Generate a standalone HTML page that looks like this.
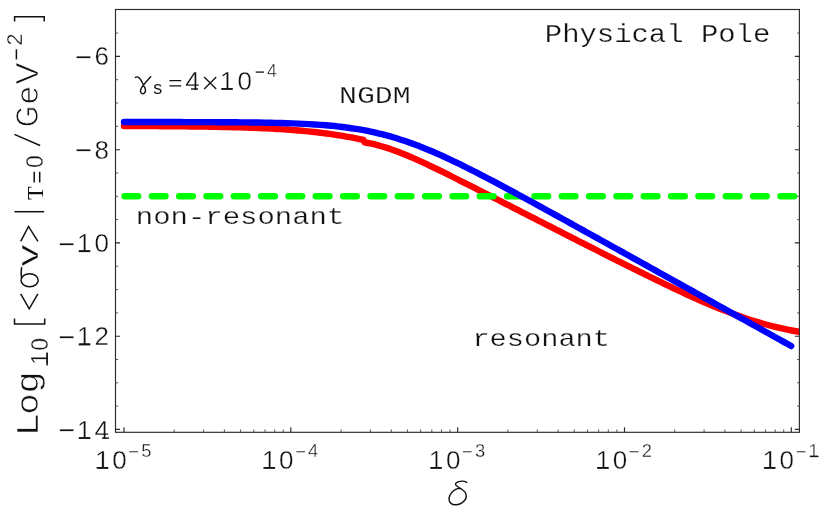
<!DOCTYPE html><html><head><meta charset="utf-8"><style>html,body{margin:0;padding:0;background:#fff;overflow:hidden}svg{display:block}.m{font-family:"Liberation Mono",monospace}.s{font-family:"Liberation Sans",sans-serif}.r{font-family:"Liberation Serif",serif}text{fill:#111}.s{stroke:#fff;stroke-width:.35px}</style></head><body>
<svg width="830" height="513" viewBox="0 0 830 513" style="will-change:transform">
<rect width="830" height="513" fill="#fff"/>
<clipPath id="c"><rect x="115.5" y="9.5" width="683.9" height="422.8"/></clipPath>
<g fill="none" stroke-linecap="round" stroke-linejoin="round" clip-path="url(#c)">
<path d="M124.00 126.01 C125.02 126.02 128.09 126.03 130.14 126.03 C132.18 126.04 134.23 126.05 136.28 126.06 C138.32 126.06 140.37 126.07 142.42 126.08 C144.46 126.09 146.51 126.10 148.55 126.11 C150.60 126.12 152.65 126.13 154.69 126.14 C156.74 126.15 158.78 126.16 160.83 126.18 C162.88 126.19 164.92 126.20 166.97 126.22 C169.02 126.23 171.06 126.25 173.11 126.27 C175.15 126.28 177.20 126.30 179.25 126.32 C181.29 126.34 183.34 126.36 185.38 126.38 C187.43 126.40 189.48 126.42 191.52 126.44 C193.57 126.47 195.62 126.49 197.66 126.52 C199.71 126.55 201.75 126.57 203.80 126.60 C205.85 126.64 207.89 126.67 209.94 126.70 C211.98 126.73 214.03 126.77 216.08 126.81 C218.12 126.85 220.17 126.89 222.22 126.93 C224.26 126.97 226.31 127.02 228.35 127.07 C230.40 127.12 232.45 127.17 234.49 127.22 C236.54 127.28 238.58 127.33 240.63 127.39 C242.68 127.45 244.72 127.52 246.77 127.59 C248.82 127.66 250.86 127.73 252.91 127.81 C254.95 127.88 257.00 127.96 259.05 128.05 C261.09 128.14 263.14 128.23 265.18 128.32 C267.23 128.42 269.28 128.52 271.32 128.63 C273.37 128.74 275.42 128.85 277.46 128.97 C279.51 129.09 281.55 129.22 283.60 129.35 C285.65 129.49 287.69 129.63 289.74 129.78 C291.78 129.93 293.83 130.09 295.88 130.25 C297.92 130.42 299.97 130.59 302.02 130.78 C304.06 130.96 306.11 131.16 308.15 131.36 C310.20 131.57 312.25 131.78 314.29 132.01 C316.34 132.23 318.38 132.47 320.43 132.72 C322.48 132.97 324.52 133.23 326.57 133.50 C328.62 133.78 330.66 134.06 332.71 134.36 C334.75 134.66 336.80 134.97 338.85 135.30 C340.89 135.63 342.94 135.97 344.98 136.33 C347.03 136.69 349.08 137.06 351.12 137.45 C353.17 137.84 355.22 138.24 357.26 138.66 C359.31 139.08 362.38 139.75 363.40 139.97M364.60 142.35 C365.52 142.53 368.30 143.05 370.15 143.45 C372.00 143.84 373.85 144.27 375.70 144.73 C377.55 145.19 379.40 145.69 381.25 146.21 C383.10 146.73 384.95 147.29 386.80 147.88 C388.65 148.46 390.50 149.08 392.35 149.73 C394.20 150.37 396.05 151.05 397.90 151.75 C399.75 152.44 401.60 153.17 403.45 153.91 C405.30 154.66 407.15 155.43 408.99 156.21 C410.84 157.00 412.69 157.80 414.54 158.62 C416.39 159.44 418.24 160.27 420.09 161.12 C421.94 161.96 423.79 162.82 425.64 163.69 C427.49 164.56 429.34 165.44 431.19 166.32 C433.04 167.21 434.89 168.10 436.74 169.00 C438.59 169.90 440.44 170.81 442.29 171.72 C444.14 172.63 445.99 173.55 447.84 174.47 C449.69 175.39 451.54 176.31 453.39 177.24 C455.24 178.16 457.09 179.09 458.94 180.02 C460.79 180.96 462.64 181.89 464.49 182.82 C466.34 183.76 468.19 184.70 470.04 185.64 C471.89 186.57 473.74 187.51 475.59 188.45 C477.44 189.39 479.29 190.34 481.14 191.28 C482.99 192.22 484.84 193.16 486.69 194.11 C488.54 195.05 490.39 195.99 492.24 196.94 C494.09 197.88 495.94 198.83 497.78 199.77 C499.63 200.72 501.48 201.66 503.33 202.61 C505.18 203.55 507.03 204.50 508.88 205.44 C510.73 206.39 512.58 207.34 514.43 208.28 C516.28 209.23 518.13 210.17 519.98 211.12 C521.83 212.07 523.68 213.01 525.53 213.96 C527.38 214.90 529.23 215.85 531.08 216.80 C532.93 217.74 534.78 218.69 536.63 219.63 C538.48 220.58 540.33 221.52 542.18 222.47 C544.03 223.41 545.88 224.36 547.73 225.30 C549.58 226.25 551.43 227.19 553.28 228.14 C555.13 229.08 556.98 230.03 558.83 230.97 C560.68 231.92 562.53 232.86 564.38 233.80 C566.23 234.75 568.08 235.69 569.93 236.63 C571.78 237.57 573.63 238.52 575.48 239.46 C577.33 240.40 579.18 241.34 581.03 242.28 C582.88 243.22 584.72 244.16 586.57 245.10 C588.42 246.04 590.27 246.98 592.12 247.92 C593.97 248.86 595.82 249.80 597.67 250.73 C599.52 251.67 601.37 252.61 603.22 253.54 C605.07 254.48 606.92 255.41 608.77 256.34 C610.62 257.28 612.47 258.21 614.32 259.14 C616.17 260.07 618.02 261.00 619.87 261.93 C621.72 262.86 623.57 263.78 625.42 264.71 C627.27 265.63 629.12 266.56 630.97 267.48 C632.82 268.40 634.67 269.32 636.52 270.24 C638.37 271.16 640.22 272.07 642.07 272.99 C643.92 273.90 645.77 274.81 647.62 275.72 C649.47 276.63 651.32 277.54 653.17 278.44 C655.02 279.34 656.87 280.24 658.72 281.14 C660.57 282.03 662.42 282.93 664.27 283.82 C666.12 284.71 667.97 285.59 669.82 286.47 C671.66 287.35 673.51 288.23 675.36 289.10 C677.21 289.97 679.06 290.84 680.91 291.70 C682.76 292.56 684.61 293.41 686.46 294.26 C688.31 295.11 690.16 295.95 692.01 296.79 C693.86 297.63 695.71 298.46 697.56 299.28 C699.41 300.10 701.26 300.91 703.11 301.71 C704.96 302.52 706.81 303.32 708.66 304.10 C710.51 304.89 712.36 305.67 714.21 306.43 C716.06 307.20 717.91 307.96 719.76 308.70 C721.61 309.45 723.46 310.18 725.31 310.90 C727.16 311.62 729.01 312.34 730.86 313.03 C732.71 313.73 734.56 314.41 736.41 315.08 C738.26 315.75 740.11 316.41 741.96 317.05 C743.81 317.69 745.66 318.32 747.51 318.93 C749.36 319.54 751.21 320.14 753.06 320.72 C754.91 321.30 756.76 321.87 758.61 322.42 C760.45 322.96 762.30 323.50 764.15 324.01 C766.00 324.53 767.85 325.03 769.70 325.51 C771.55 325.99 773.40 326.46 775.25 326.91 C777.10 327.36 778.95 327.79 780.80 328.21 C782.65 328.62 784.50 329.02 786.35 329.41 C788.20 329.79 790.05 330.16 791.90 330.51 C793.75 330.86 795.60 331.20 797.45 331.52 C799.30 331.84 802.08 332.29 803.00 332.44" stroke="#ff0000" stroke-width="6.4"/>
<path d="M124.6 196.3H796" stroke="#00ff00" stroke-width="6.6" stroke-dasharray="13.5 13.83"/>
<path d="M124.00 122.02 C124.93 122.02 127.74 122.02 129.61 122.02 C131.48 122.03 133.34 122.03 135.21 122.03 C137.08 122.03 138.95 122.03 140.82 122.03 C142.69 122.03 144.56 122.03 146.43 122.03 C148.30 122.04 150.16 122.04 152.03 122.04 C153.90 122.04 155.77 122.04 157.64 122.04 C159.51 122.05 161.38 122.05 163.25 122.05 C165.12 122.05 166.98 122.05 168.85 122.06 C170.72 122.06 172.59 122.06 174.46 122.06 C176.33 122.07 178.20 122.07 180.07 122.07 C181.94 122.08 183.81 122.08 185.67 122.08 C187.54 122.09 189.41 122.09 191.28 122.10 C193.15 122.10 195.02 122.11 196.89 122.11 C198.76 122.12 200.63 122.12 202.49 122.13 C204.36 122.13 206.23 122.14 208.10 122.15 C209.97 122.15 211.84 122.16 213.71 122.17 C215.58 122.18 217.45 122.19 219.31 122.20 C221.18 122.21 223.05 122.22 224.92 122.23 C226.79 122.24 228.66 122.25 230.53 122.27 C232.40 122.28 234.27 122.29 236.13 122.31 C238.00 122.32 239.87 122.34 241.74 122.36 C243.61 122.38 245.48 122.40 247.35 122.42 C249.22 122.44 251.09 122.46 252.95 122.48 C254.82 122.51 256.69 122.53 258.56 122.56 C260.43 122.59 262.30 122.62 264.17 122.65 C266.04 122.68 267.91 122.72 269.77 122.76 C271.64 122.80 273.51 122.84 275.38 122.88 C277.25 122.92 279.12 122.97 280.99 123.02 C282.86 123.07 284.73 123.13 286.59 123.19 C288.46 123.25 290.33 123.31 292.20 123.38 C294.07 123.44 295.94 123.52 297.81 123.60 C299.68 123.67 301.55 123.76 303.42 123.85 C305.28 123.94 307.15 124.04 309.02 124.14 C310.89 124.24 312.76 124.35 314.63 124.47 C316.50 124.59 318.37 124.72 320.24 124.86 C322.10 125.00 323.97 125.14 325.84 125.30 C327.71 125.45 329.58 125.62 331.45 125.80 C333.32 125.98 335.19 126.16 337.06 126.37 C338.92 126.57 340.79 126.78 342.66 127.01 C344.53 127.24 346.40 127.48 348.27 127.74 C350.14 127.99 352.01 128.26 353.88 128.55 C355.74 128.84 357.61 129.14 359.48 129.46 C361.35 129.78 363.22 130.12 365.09 130.48 C366.96 130.83 368.83 131.21 370.70 131.60 C372.56 131.99 374.43 132.41 376.30 132.84 C378.17 133.27 380.04 133.72 381.91 134.19 C383.78 134.66 385.65 135.15 387.52 135.66 C389.38 136.17 391.25 136.70 393.12 137.25 C394.99 137.80 396.86 138.38 398.73 138.97 C400.60 139.56 402.47 140.17 404.34 140.80 C406.21 141.43 408.07 142.07 409.94 142.74 C411.81 143.41 413.68 144.10 415.55 144.80 C417.42 145.50 419.29 146.22 421.16 146.96 C423.03 147.70 424.89 148.45 426.76 149.22 C428.63 149.99 430.50 150.78 432.37 151.57 C434.24 152.37 436.11 153.19 437.98 154.01 C439.85 154.84 441.71 155.68 443.58 156.53 C445.45 157.38 447.32 158.25 449.19 159.12 C451.06 160.00 452.93 160.88 454.80 161.78 C456.67 162.67 458.53 163.58 460.40 164.49 C462.27 165.40 464.14 166.33 466.01 167.25 C467.88 168.18 469.75 169.12 471.62 170.07 C473.49 171.01 475.35 171.96 477.22 172.92 C479.09 173.87 480.96 174.84 482.83 175.80 C484.70 176.77 486.57 177.74 488.44 178.72 C490.31 179.70 492.17 180.68 494.04 181.67 C495.91 182.65 497.78 183.64 499.65 184.64 C501.52 185.63 503.39 186.63 505.26 187.63 C507.13 188.63 508.99 189.63 510.86 190.64 C512.73 191.64 514.60 192.65 516.47 193.66 C518.34 194.67 520.21 195.68 522.08 196.70 C523.95 197.71 525.82 198.73 527.68 199.75 C529.55 200.77 531.42 201.79 533.29 202.81 C535.16 203.83 537.03 204.85 538.90 205.88 C540.77 206.90 542.64 207.93 544.50 208.95 C546.37 209.98 548.24 211.01 550.11 212.04 C551.98 213.06 553.85 214.09 555.72 215.12 C557.59 216.15 559.46 217.19 561.32 218.22 C563.19 219.25 565.06 220.28 566.93 221.31 C568.80 222.35 570.67 223.38 572.54 224.42 C574.41 225.45 576.28 226.48 578.14 227.52 C580.01 228.55 581.88 229.59 583.75 230.63 C585.62 231.66 587.49 232.70 589.36 233.73 C591.23 234.77 593.10 235.81 594.96 236.84 C596.83 237.88 598.70 238.92 600.57 239.96 C602.44 240.99 604.31 242.03 606.18 243.07 C608.05 244.11 609.92 245.15 611.78 246.18 C613.65 247.22 615.52 248.26 617.39 249.30 C619.26 250.34 621.13 251.38 623.00 252.42 C624.87 253.46 626.74 254.49 628.61 255.53 C630.47 256.57 632.34 257.61 634.21 258.65 C636.08 259.69 637.95 260.73 639.82 261.77 C641.69 262.81 643.56 263.85 645.43 264.89 C647.29 265.93 649.16 266.97 651.03 268.01 C652.90 269.05 654.77 270.09 656.64 271.13 C658.51 272.17 660.38 273.21 662.25 274.25 C664.11 275.29 665.98 276.33 667.85 277.37 C669.72 278.41 671.59 279.45 673.46 280.49 C675.33 281.53 677.20 282.57 679.07 283.61 C680.93 284.65 682.80 285.69 684.67 286.73 C686.54 287.77 688.41 288.81 690.28 289.85 C692.15 290.89 694.02 291.93 695.89 292.97 C697.75 294.02 699.62 295.06 701.49 296.10 C703.36 297.14 705.23 298.18 707.10 299.22 C708.97 300.26 710.84 301.30 712.71 302.34 C714.57 303.38 716.44 304.42 718.31 305.46 C720.18 306.50 722.05 307.54 723.92 308.58 C725.79 309.62 727.66 310.66 729.53 311.70 C731.39 312.74 733.26 313.79 735.13 314.83 C737.00 315.87 738.87 316.91 740.74 317.95 C742.61 318.99 744.48 320.03 746.35 321.07 C748.22 322.11 750.08 323.15 751.95 324.19 C753.82 325.23 755.69 326.27 757.56 327.31 C759.43 328.35 761.30 329.39 763.17 330.44 C765.04 331.48 766.90 332.52 768.77 333.56 C770.64 334.60 772.51 335.64 774.38 336.68 C776.25 337.72 778.12 338.76 779.99 339.80 C781.86 340.84 783.72 341.88 785.59 342.92 C787.46 343.96 790.27 345.52 791.20 346.04" stroke="#0000ff" stroke-width="6.4"/>
</g>
<g stroke="#2a2a2a" stroke-width="1.15" fill="none">
<rect x="115.5" y="9.5" width="683.9" height="422.8"/>
<path d="M115.5 429.4h4.6M799.4 429.4h-4.6M115.5 336.2h4.6M799.4 336.2h-4.6M115.5 242.9h4.6M799.4 242.9h-4.6M115.5 149.7h4.6M799.4 149.7h-4.6M115.5 56.4h4.6M799.4 56.4h-4.6M124.0 432.3v-5M290.8 432.3v-5M457.7 432.3v-5M624.5 432.3v-5M791.3 432.3v-5M791.3 432.3v-5"/>
<path d="M115.5 406.1h2.7M799.4 406.1h-2.3M115.5 382.8h2.7M799.4 382.8h-2.3M115.5 359.5h2.7M799.4 359.5h-2.3M115.5 312.9h2.7M799.4 312.9h-2.3M115.5 289.6h2.7M799.4 289.6h-2.3M115.5 266.2h2.7M799.4 266.2h-2.3M115.5 219.6h2.7M799.4 219.6h-2.3M115.5 196.3h2.7M799.4 196.3h-2.3M115.5 173.0h2.7M799.4 173.0h-2.3M115.5 126.3h2.7M799.4 126.3h-2.3M115.5 103.0h2.7M799.4 103.0h-2.3M115.5 79.7h2.7M799.4 79.7h-2.3M115.5 33.1h2.7M799.4 33.1h-2.3M174.2 432.3v-2.9M203.6 432.3v-2.9M224.4 432.3v-2.9M240.6 432.3v-2.9M253.8 432.3v-2.9M265.0 432.3v-2.9M274.7 432.3v-2.9M283.2 432.3v-2.9M341.1 432.3v-2.9M370.4 432.3v-2.9M391.3 432.3v-2.9M407.4 432.3v-2.9M420.6 432.3v-2.9M431.8 432.3v-2.9M441.5 432.3v-2.9M450.0 432.3v-2.9M507.9 432.3v-2.9M537.3 432.3v-2.9M558.1 432.3v-2.9M574.3 432.3v-2.9M587.5 432.3v-2.9M598.6 432.3v-2.9M608.3 432.3v-2.9M616.9 432.3v-2.9M674.7 432.3v-2.9M704.1 432.3v-2.9M724.9 432.3v-2.9M741.1 432.3v-2.9M754.3 432.3v-2.9M765.5 432.3v-2.9M775.2 432.3v-2.9M783.7 432.3v-2.9" stroke="#555" stroke-width="1"/>
</g>
<text class="s" x="101.8" y="65.3" font-size="26" text-anchor="middle">6</text>
<text class="s" x="83.6" y="66.8" font-size="29" text-anchor="middle">−</text>
<text class="s" x="101.8" y="158.7" font-size="26" text-anchor="middle">8</text>
<text class="s" x="83.6" y="160.2" font-size="29" text-anchor="middle">−</text>
<text class="s" x="101.8" y="252.1" font-size="26" text-anchor="middle">0</text>
<text class="s" x="84.3" y="252.1" font-size="26" text-anchor="middle">1</text>
<path d="M78.7 251.3h11.6" stroke="#111" stroke-width="1.6"/>
<text class="s" x="67.0" y="253.6" font-size="29" text-anchor="middle">−</text>
<text class="s" x="101.8" y="345.4" font-size="26" text-anchor="middle">2</text>
<text class="s" x="84.3" y="345.4" font-size="26" text-anchor="middle">1</text>
<path d="M78.7 344.6h11.6" stroke="#111" stroke-width="1.6"/>
<text class="s" x="67.0" y="346.9" font-size="29" text-anchor="middle">−</text>
<text class="s" x="101.8" y="438.8" font-size="26" text-anchor="middle">4</text>
<path d="M102.0 438.1h7" stroke="#111" stroke-width="1.4"/>
<text class="s" x="84.3" y="438.8" font-size="26" text-anchor="middle">1</text>
<path d="M78.7 438.0h11.6" stroke="#111" stroke-width="1.6"/>
<text class="s" x="67.0" y="440.3" font-size="29" text-anchor="middle">−</text>
<text class="s" x="102.4" y="468.6" font-size="26" text-anchor="middle">1</text>
<path d="M96.6 467.8h11.4" stroke="#111" stroke-width="1.6"/>
<text class="s" x="119.5" y="468.6" font-size="26" text-anchor="middle">0</text>
<text class="s" x="133.7" y="457.7" font-size="18.4" text-anchor="middle">−</text>
<text class="s" x="146.4" y="457.0" font-size="18.4" text-anchor="middle">5</text>
<text class="s" x="269.2" y="468.6" font-size="26" text-anchor="middle">1</text>
<path d="M263.4 467.8h11.4" stroke="#111" stroke-width="1.6"/>
<text class="s" x="286.3" y="468.6" font-size="26" text-anchor="middle">0</text>
<text class="s" x="300.5" y="457.7" font-size="18.4" text-anchor="middle">−</text>
<text class="s" x="313.2" y="457.0" font-size="18.4" text-anchor="middle">4</text>
<text class="s" x="436.1" y="468.6" font-size="26" text-anchor="middle">1</text>
<path d="M430.3 467.8h11.4" stroke="#111" stroke-width="1.6"/>
<text class="s" x="453.2" y="468.6" font-size="26" text-anchor="middle">0</text>
<text class="s" x="467.4" y="457.7" font-size="18.4" text-anchor="middle">−</text>
<text class="s" x="480.1" y="457.0" font-size="18.4" text-anchor="middle">3</text>
<text class="s" x="602.9" y="468.6" font-size="26" text-anchor="middle">1</text>
<path d="M597.1 467.8h11.4" stroke="#111" stroke-width="1.6"/>
<text class="s" x="620.0" y="468.6" font-size="26" text-anchor="middle">0</text>
<text class="s" x="634.2" y="457.7" font-size="18.4" text-anchor="middle">−</text>
<text class="s" x="646.9" y="457.0" font-size="18.4" text-anchor="middle">2</text>
<text class="s" x="769.7" y="468.6" font-size="26" text-anchor="middle">1</text>
<path d="M763.9 467.8h11.4" stroke="#111" stroke-width="1.6"/>
<text class="s" x="786.8" y="468.6" font-size="26" text-anchor="middle">0</text>
<text class="s" x="801.0" y="457.7" font-size="18.4" text-anchor="middle">−</text>
<text class="s" x="813.7" y="457.0" font-size="18.4" text-anchor="middle">1</text>
<path d="M809.9 456.5h8.6" stroke="#111" stroke-width="1.3"/>
<path d="M466.7 482.4C464.5 481.0 461.0 480.8 458.0 481.8C455.0 482.9 454.9 484.6 456.8 486.0C459.5 488.0 464.0 490.0 465.6 493.0C467.2 497.0 465.5 500.5 462.0 502.8C458.5 505.0 453.5 505.5 451.0 503.4C448.5 501.0 448.6 497.0 451.0 493.4C453.5 490.0 457.5 488.2 461.0 488.4" fill="none" stroke="#111" stroke-width="1.4" stroke-linecap="round"/>
<text class="m" x="544.8" y="41.6" font-size="25" textLength="225.5" lengthAdjust="spacingAndGlyphs" stroke="#fff" stroke-width="0.25">Physical Pole</text>
<text class="m" x="339.0" y="102.9" font-size="24.5" textLength="71.6" lengthAdjust="spacingAndGlyphs" stroke="#fff" stroke-width="0.25">NGDM</text>
<text class="m" x="135.8" y="223.9" font-size="24" textLength="208.5" lengthAdjust="spacingAndGlyphs" stroke="#fff" stroke-width="0.25">non-resonant</text>
<text class="m" x="472.4" y="345.5" font-size="24" textLength="137.6" lengthAdjust="spacingAndGlyphs" stroke="#fff" stroke-width="0.25">resonant</text>
<path d="M135.4 77.4C137.5 76.0 139.8 77.8 141.2 80.6C142.6 83.4 144.6 86.5 145.3 89.0C146.0 91.8 144.6 93.8 142.6 93.7C140.6 93.6 140.0 91.6 140.8 89.4C142.0 86.0 146.5 81.5 150.8 76.8" fill="none" stroke="#111" stroke-width="1.4" stroke-linecap="round"/>
<text class="m" x="157.7" y="94.0" font-size="18.0" text-anchor="middle">s</text>
<path d="M169.5 80.7h11.7M169.5 85.8h11.7" stroke="#111" stroke-width="1.3"/>
<text class="s" x="192.5" y="89.7" font-size="26" text-anchor="middle">4</text>
<path d="M191.0 89.0h7" stroke="#111" stroke-width="1.4"/>
<path d="M204.2 77.0L216.2 89.0M216.2 77.0L204.2 89.0" stroke="#111" stroke-width="1.3"/>
<text class="s" x="227.0" y="89.7" font-size="26" text-anchor="middle">1</text>
<path d="M221.2 88.9h11.4" stroke="#111" stroke-width="1.6"/>
<text class="s" x="244.7" y="89.7" font-size="26" text-anchor="middle">0</text>
<path d="M255.7 72.1h8.2" stroke="#111" stroke-width="1.3"/>
<text class="s" x="271.8" y="76.8" font-size="17.6" text-anchor="middle">4</text>
<g transform="rotate(-90)">
<text class="m" transform="translate(-424.8 37.7) scale(1.250 1)" font-size="32" text-anchor="middle" stroke="#fff" stroke-width="0.6" vector-effect="non-scaling-stroke">L</text>
<text class="m" transform="translate(-403.9 37.7) scale(1.120 1)" font-size="32" text-anchor="middle" stroke="#fff" stroke-width="0.6" vector-effect="non-scaling-stroke">o</text>
<text class="m" transform="translate(-382.5 37.7) scale(1.180 1)" font-size="32" text-anchor="middle" stroke="#fff" stroke-width="0.6" vector-effect="non-scaling-stroke">g</text>
<text class="s" transform="translate(-358.6 47.6) scale(1.000 1)" font-size="23" text-anchor="middle">1</text>
<text class="s" transform="translate(-344.3 47.6) scale(1.000 1)" font-size="23" text-anchor="middle">0</text>
<text class="m" transform="translate(-255.6 37.7) scale(1.360 1)" font-size="30" text-anchor="middle" stroke="#fff" stroke-width="0.6" vector-effect="non-scaling-stroke">v</text>
<text class="r" transform="translate(-193.0 43.0) scale(1.000 1)" font-size="22.5" text-anchor="middle">T</text>
<text class="s" transform="translate(-161.5 43.0) scale(1.000 1)" font-size="23" text-anchor="middle">0</text>
<text class="s" transform="translate(-116.5 37.8) scale(0.880 1)" font-size="31" text-anchor="middle" style="stroke-width:.8px" vector-effect="non-scaling-stroke">G</text>
<text class="s" transform="translate(-95.2 37.8) scale(1.050 1)" font-size="31" text-anchor="middle" style="stroke-width:.8px" vector-effect="non-scaling-stroke">e</text>
<text class="s" transform="translate(-73.6 37.8) scale(1.060 1)" font-size="31" text-anchor="middle" style="stroke-width:.8px" vector-effect="non-scaling-stroke">V</text>
<text class="s" transform="translate(-39.5 22.2) scale(1.000 1)" font-size="21.5" text-anchor="middle">2</text>
</g>
<g stroke="#111" stroke-width="1.5" fill="none" stroke-linecap="butt">
<path d="M47.1 365.4V352.4"/>
<path d="M14.5 318.4V324.0H44.7V318.4"/>
<path d="M20.7 293.8L29.2 308.8L37.9 293.8"/>
<ellipse cx="29.6" cy="280.3" rx="8.6" ry="6.5"/>
<path d="M21.6 278.5C21.0 275 21.0 271 21.6 267.2"/>
<path d="M20.7 241.4L28.5 226.4L37.9 241.4"/>
<path d="M14.4 211.7H44.2"/>
<path d="M34.2 182.5V171.8M39.7 182.5V171.8"/>
<path d="M14.4 134.4L40.1 145.5"/>
<path d="M16.4 59.4V49.3"/>
<path d="M14.6 21.5V16.7H44.2V21.5"/>
</g>
</svg></body></html>
